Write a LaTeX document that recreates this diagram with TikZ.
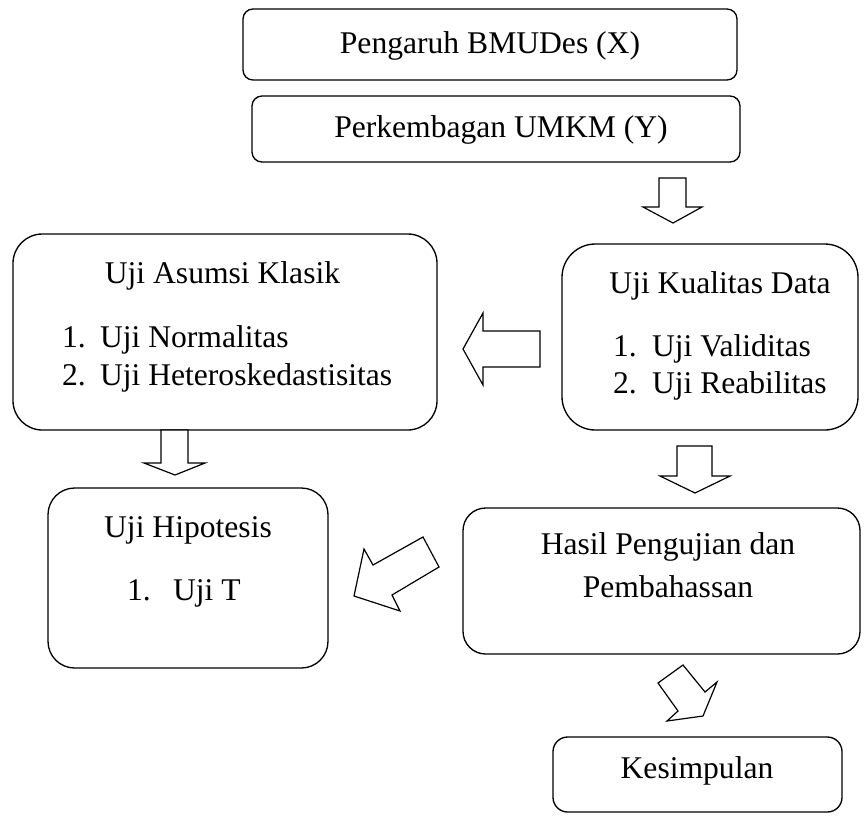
\documentclass[tikz,border=0pt]{standalone}
\usepackage{fontspec}
\setmainfont{Liberation Serif}
\begin{document}
\begin{tikzpicture}[x=0.75pt,y=-0.75pt,
  box/.style={draw, line width=1pt, inner sep=0pt, outer sep=0pt, rounded corners=#1},
  lbl/.style={font=\fontsize{23.7}{28}\selectfont, inner sep=0pt, outer sep=0pt, anchor=base},
  lblw/.style={lbl, anchor=base west},
  blockarrow/.style={draw, line width=0.9pt, line join=miter, fill=white}]
\useasboundingbox (0,0) rectangle (866,818);

% boxes
\node[box=7.5pt, minimum width=370.5pt, minimum height=53.25pt] (bx) at (490,44.5) {};
\node[box=7.5pt, minimum width=366pt, minimum height=49.5pt] (by) at (496,129) {};
\node[box=22pt, minimum width=318pt, minimum height=147pt] (asumsi) at (225,332) {};
\node[box=25pt, minimum width=222pt, minimum height=139.5pt] (kualitas) at (710,337) {};
\node[box=20pt, minimum width=210pt, minimum height=135pt] (hipotesis) at (188,578) {};
\node[box=17pt, minimum width=297.75pt, minimum height=109.5pt] (hasil) at (661.5,581) {};
\node[box=11pt, minimum width=216.75pt, minimum height=56.25pt] (kesimpulan) at (697.5,774.5) {};

% texts
\node[lbl] (tbx) at (490,53) {Pengaruh BMUDes (X)};
\node[lbl] (tby) at (501,137) {Perkembagan UMKM (Y)};

\node[lbl] (tas) at (222.5,283) {Uji Asumsi Klasik};
\node[lblw] (as1n) at (62,347) {1.};
\node[lblw] (as1) at (100,347) {Uji Normalitas};
\node[lblw] (as2n) at (62,385) {2.};
\node[lblw] (as2) at (100,385) {Uji Heteroskedastisitas};

\node[lbl] (tku) at (720,293) {Uji Kualitas Data};
\node[lblw] (ku1n) at (613,356) {1.};
\node[lblw] (ku1) at (652,356) {Uji Validitas};
\node[lblw] (ku2n) at (613,393) {2.};
\node[lblw] (ku2) at (652,393) {Uji Reabilitas};

\node[lbl] (thi) at (188,537) {Uji Hipotesis};
\node[lblw] (hi1n) at (127,600) {1.};
\node[lblw] (hi1) at (173,600) {Uji T};

\node[lbl] (tha1) at (668,554) {Hasil Pengujian dan};
\node[lbl] (tha2) at (668,597) {Pembahassan};

\node[lbl] (tke) at (697,778) {Kesimpulan};

% block arrows
\draw[blockarrow] (659,178) -- (686,178) -- (686,207) -- (702,207) -- (673,223) -- (643,207) -- (659,207) -- cycle;
\draw[blockarrow] (540,331) -- (483,331) -- (483,313) -- (463,349) -- (483,385) -- (483,367) -- (540,367) -- cycle;
\draw[blockarrow] (161,430) -- (188,430) -- (188,463) -- (205,463) -- (175,475) -- (144,463) -- (161,463) -- cycle;
\draw[blockarrow] (677,446) -- (712,446) -- (712,476) -- (730,476) -- (695,493) -- (660,476) -- (677,476) -- cycle;
\draw[blockarrow] (423,537) -- (439,567) -- (392,595) -- (400,611) -- (354,596) -- (364,549) -- (373,565) -- cycle;
\draw[blockarrow] (683,665) -- (705,692) -- (717,682) -- (703,716) -- (667,721) -- (678,711) -- (658,683) -- cycle;
\end{tikzpicture}
\end{document}
